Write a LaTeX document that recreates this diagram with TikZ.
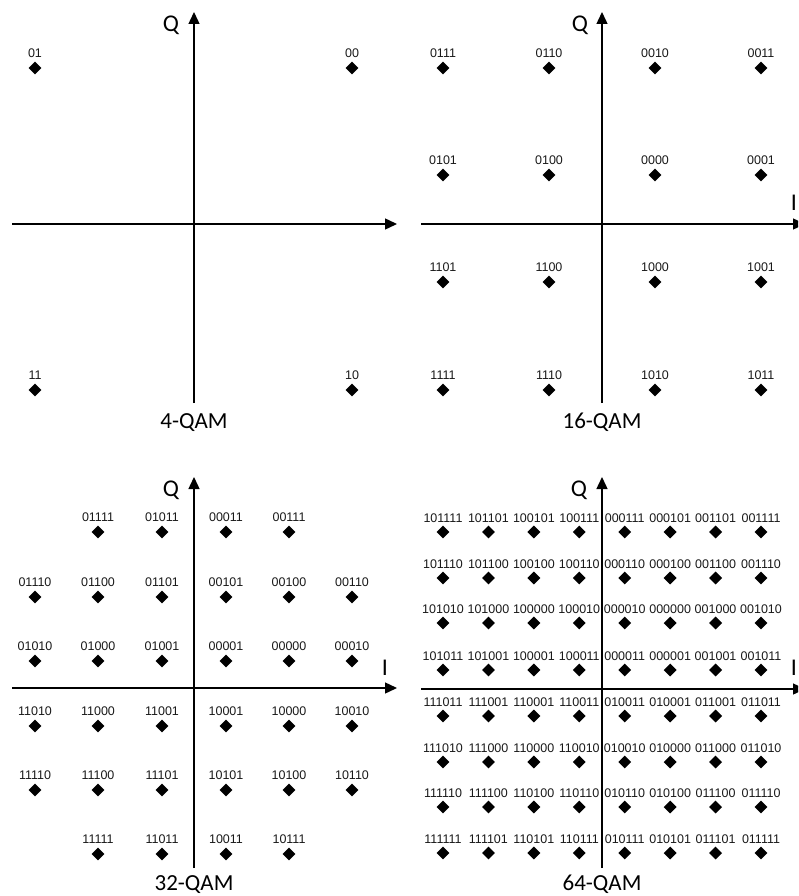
\documentclass[tikz,border=0pt]{standalone}
\usepackage{fontspec}
\usetikzlibrary{arrows.meta,shapes.geometric}
\newfontfamily\lblfont{Liberation Sans}
\newfontfamily\ttlfont{Carlito}
\tikzset{
  pt/.style={shape=diamond,fill=black,draw=none,inner sep=0pt,minimum width=13pt,minimum height=13pt},
  lbl/.style={inner sep=0pt,font=\lblfont\fontsize{12.5}{14}\selectfont,text=black!90},
  axis/.style={line width=1.4pt,-{Triangle[length=12pt,width=11pt]}},
  ttl/.style={inner sep=0pt,anchor=base,font=\ttlfont\fontsize{23}{26}\selectfont},
  axl/.style={inner sep=0pt,anchor=base,font=\ttlfont\fontsize{24}{26}\selectfont}
}
\begin{document}
\begin{tikzpicture}[x=1pt,y=-1pt]
\useasboundingbox (0,0) rectangle (798,896);
\clip (0,0) rectangle (798,896);
% ---------------- 4-QAM ----------------
\coordinate (a1b) at (194,403); \coordinate (a1t) at (194,12);
\coordinate (a1l) at (12,224);  \coordinate (a1r) at (397,224);
\draw[axis] (a1b) -- (a1t);
\draw[axis] (a1l) -- (a1r);
\node[axl] (q1) at (171,31.5) {Q};
\node[ttl] (t1) at (194,428.5) {4-QAM};
\foreach \x/\y/\lab [count=\c] in {35/68/01,352/68/00,35/390/11,352/390/10}{
  \node[pt] (p1-\c) at (\x,\y) {};
  \node[lbl] (l1-\c) at (\x,\y-14.5) {\lab};
}
% ---------------- 16-QAM ----------------
\coordinate (a2b) at (602,403); \coordinate (a2t) at (602,12);
\coordinate (a2l) at (421,224); \coordinate (a2r) at (805,224);
\draw[axis] (a2b) -- (a2t);
\draw[axis] (a2l) -- (a2r);
\node[axl] (q2) at (580,31.5) {Q};
\node[axl] (i2) at (794,210) {I};
\node[ttl] (t2) at (602,428.5) {16-QAM};
\foreach \y/\row [count=\r] in {68/{0111,0110,0010,0011},175/{0101,0100,0000,0001},282/{1101,1100,1000,1001},390/{1111,1110,1010,1011}}{
  \foreach \lab [count=\c] in \row {
    \pgfmathsetmacro{\xx}{443+106*(\c-1)}
    \node[pt] (p2-\r-\c) at (\xx,\y) {};
    \node[lbl] (l2-\r-\c) at (\xx,\y-14.5) {\lab};
  }
}
% ---------------- 32-QAM ----------------
\coordinate (a3b) at (194,868); \coordinate (a3t) at (194,477);
\coordinate (a3l) at (12,688);  \coordinate (a3r) at (397,688);
\draw[axis] (a3b) -- (a3t);
\draw[axis] (a3l) -- (a3r);
\node[axl] (q3) at (171,496.5) {Q};
\node[axl] (i3) at (385,675) {I};
\node[ttl] (t3) at (194,890) {32-QAM};
\foreach \y/\row [count=\r] in {
 532/{98/01111,162/01011,226/00011,289/00111},
 597/{35/01110,98/01100,162/01101,226/00101,289/00100,352/00110},
 661/{35/01010,98/01000,162/01001,226/00001,289/00000,352/00010},
 726/{35/11010,98/11000,162/11001,226/10001,289/10000,352/10010},
 790/{35/11110,98/11100,162/11101,226/10101,289/10100,352/10110},
 854/{98/11111,162/11011,226/10011,289/10111}}{
  \foreach \xx/\lab [count=\c] in \row {
    \node[pt] (p3-\r-\c) at (\xx,\y) {};
    \node[lbl] (l3-\r-\c) at (\xx,\y-14.5) {\lab};
  }
}
% ---------------- 64-QAM ----------------
\coordinate (a4b) at (602,868); \coordinate (a4t) at (602,477);
\coordinate (a4l) at (421,689); \coordinate (a4r) at (805,689);
\draw[axis] (a4b) -- (a4t);
\draw[axis] (a4l) -- (a4r);
\node[axl] (q4) at (579,496.5) {Q};
\node[axl] (i4) at (794,675) {I};
\node[ttl] (t4) at (602,890) {64-QAM};
\foreach \y/\row [count=\r] in {
 532/{101111,101101,100101,100111,000111,000101,001101,001111},
 578/{101110,101100,100100,100110,000110,000100,001100,001110},
 623/{101010,101000,100000,100010,000010,000000,001000,001010},
 670/{101011,101001,100001,100011,000011,000001,001001,001011},
 716/{111011,111001,110001,110011,010011,010001,011001,011011},
 762/{111010,111000,110000,110010,010010,010000,011000,011010},
 807/{111110,111100,110100,110110,010110,010100,011100,011110},
 853/{111111,111101,110101,110111,010111,010101,011101,011111}}{
  \foreach \lab [count=\c] in \row {
    \pgfmathsetmacro{\xx}{443+45.43*(\c-1)}
    \node[pt] (p4-\r-\c) at (\xx,\y) {};
    \node[lbl] (l4-\r-\c) at (\xx,\y-14) {\lab};
  }
}
\end{tikzpicture}
\end{document}
